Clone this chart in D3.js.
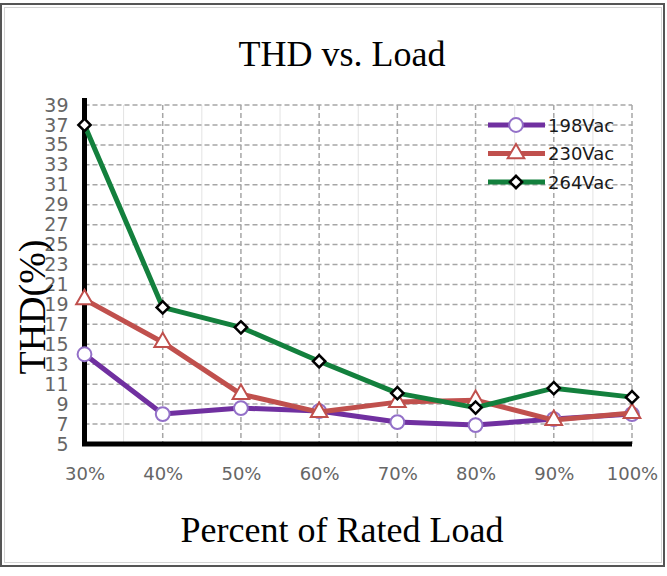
<!DOCTYPE html>
<html>
<head>
<meta charset="utf-8">
<script src="https://cdn.jsdelivr.net/npm/d3@7"></script>
<style>
  html, body { margin: 0; padding: 0; background: #fff; }
  svg { display: block; }
</style>
</head>
<body>
<div id="chart"></div>
<script>
const loads = ['30%', '40%', '50%', '60%', '70%', '80%', '90%', '100%']
const yTicks = [5, 7, 9, 11, 13, 15, 17, 19, 21, 23, 25, 27, 29, 31, 33, 35, 37, 39]
const thd198 = [14, 8.0, 8.6, 8.3, 7.2, 6.9, 7.5, 8.0]
const thd230 = [19.5, 15.2, 10.0, 8.2, 9.2, 9.4, 7.4, 8.1]
const thd264 = [37, 18.7, 16.7, 13.3, 10.1, 8.65, 10.6, 9.7]
const seriesNames = ['198Vac', '230Vac', '264Vac']

const width = 667
const height = 576
const serif = '"Liberation Serif", "Times New Roman", serif'
const sans = '"DejaVu Sans", sans-serif'

const series = [
  {name: seriesNames[0], values: thd198, color: '#7030a0', marker: 'circle', markerStroke: '#9370c8'},
  {name: seriesNames[1], values: thd230, color: '#c0504d', marker: 'triangle', markerStroke: '#c0504d'},
  {name: seriesNames[2], values: thd264, color: '#13803d', marker: 'diamond', markerStroke: '#000'}
]

const svg = d3.select('#chart').append('svg')
  .attr('width', width)
  .attr('height', height)

// frame
svg.append('rect')
  .attr('x', 1).attr('y', 4)
  .attr('width', 663).attr('height', 562)
  .attr('fill', '#fff')
  .attr('stroke', '#555').attr('stroke-width', 2)
svg.append('rect')
  .attr('x', 4.5).attr('y', 7.5)
  .attr('width', 657).attr('height', 555)
  .attr('fill', 'none')
  .attr('stroke', '#d4d4d4').attr('stroke-width', 1)

const x = d3.scalePoint()
  .domain(loads)
  .range([84.5, 632])
const y = d3.scaleLinear()
  .domain([5, 39])
  .range([444, 105])

const step = x.step()

// minor vertical grid
svg.append('g').selectAll('line').data(loads.slice(0, -1))
  .enter().append('line')
    .attr('x1', (d) => x(d) + step / 2)
    .attr('x2', (d) => x(d) + step / 2)
    .attr('y1', y(39))
    .attr('y2', y(5))
    .attr('stroke', '#e3e3e3')
    .attr('stroke-width', 1)

// major grid
svg.append('g').selectAll('line').data(yTicks.slice(1))
  .enter().append('line')
    .attr('x1', x(loads[0]))
    .attr('x2', x(loads[loads.length - 1]))
    .attr('y1', (d) => y(d))
    .attr('y2', (d) => y(d))
    .attr('stroke', '#a6a6a6')
    .attr('stroke-width', 1.5)
    .attr('stroke-dasharray', '5,3')
svg.append('g').selectAll('line').data(loads.slice(1))
  .enter().append('line')
    .attr('x1', (d) => x(d))
    .attr('x2', (d) => x(d))
    .attr('y1', y(39))
    .attr('y2', y(5))
    .attr('stroke', '#a6a6a6')
    .attr('stroke-width', 1.5)
    .attr('stroke-dasharray', '5,3')

// axes
const yAxis = svg.append('g')
  .attr('transform', `translate(${x(loads[0])}, 0)`)
  .call(d3.axisLeft(y).tickValues(yTicks).tickSize(0).tickPadding(16))
yAxis.select('.domain').remove()
yAxis.selectAll('text')
  .attr('font-family', sans)
  .attr('font-size', 19)
  .attr('fill', '#666')

const xAxis = svg.append('g')
  .attr('transform', `translate(0, ${y(5)})`)
  .call(d3.axisBottom(x).tickSize(0).tickPadding(23))
xAxis.select('.domain').remove()
xAxis.selectAll('text')
  .attr('font-family', sans)
  .attr('font-size', 18)
  .attr('fill', '#666')

svg.append('line')
  .attr('x1', x(loads[0]))
  .attr('x2', x(loads[0]))
  .attr('y1', y(39) - 7)
  .attr('y2', y(5))
  .attr('stroke', '#000')
  .attr('stroke-width', 5)
svg.append('line')
  .attr('x1', x(loads[0]) - 2.5)
  .attr('x2', x(loads[loads.length - 1]))
  .attr('y1', y(5))
  .attr('y2', y(5))
  .attr('stroke', '#000')
  .attr('stroke-width', 5)

// markers
const symbolFor = {
  circle: d3.symbol().type(d3.symbolCircle).size(150),
  triangle: d3.symbol().type(d3.symbolTriangle).size(120),
  diamond: d3.symbol().type(d3.symbolSquare).size(75)
}

function drawMarker(g, s, cx, cy) {
  g.append('path')
    .attr('d', symbolFor[s.marker]())
    .attr('transform', `translate(${cx}, ${cy})${s.marker === 'diamond' ? ' rotate(45)' : ''}`)
    .attr('fill', '#fff')
    .attr('stroke', s.markerStroke)
    .attr('stroke-width', s.marker === 'diamond' ? 2.5 : 2)
}

const line = d3.line()
  .x((d, i) => x(loads[i]))
  .y((d) => y(d))

series.forEach((s) => {
  const g = svg.append('g')
  g.append('path')
    .datum(s.values)
    .attr('d', line)
    .attr('fill', 'none')
    .attr('stroke', s.color)
    .attr('stroke-width', 5)
    .attr('stroke-linejoin', 'round')
  s.values.forEach((v, i) => drawMarker(g, s, x(loads[i]), y(v)))
})

// legend
const legend = svg.append('g')
series.forEach((s, i) => {
  const ly = 125 + i * 28.5
  const g = legend.append('g')
  g.append('line')
    .attr('x1', 488).attr('x2', 545)
    .attr('y1', ly).attr('y2', ly)
    .attr('stroke', s.color)
    .attr('stroke-width', 5)
  drawMarker(g, s, 516, ly)
  g.append('text')
    .attr('x', 548)
    .attr('y', ly + 6.5)
    .attr('font-family', sans)
    .attr('font-size', 18)
    .attr('fill', '#1a1a1a')
    .text(s.name)
})

// titles
svg.append('text')
  .attr('x', 342)
  .attr('y', 66)
  .attr('text-anchor', 'middle')
  .attr('font-family', serif)
  .attr('font-size', 36)
  .attr('fill', '#000')
  .text('THD vs. Load')

svg.append('text')
  .attr('x', 342)
  .attr('y', 542)
  .attr('text-anchor', 'middle')
  .attr('font-family', serif)
  .attr('font-size', 36)
  .attr('fill', '#000')
  .text('Percent of Rated Load')

svg.append('text')
  .attr('transform', 'translate(45, 307) rotate(-90)')
  .attr('text-anchor', 'middle')
  .attr('font-family', serif)
  .attr('font-size', 38)
  .attr('fill', '#000')
  .text('THD(%)')
</script>
</body>
</html>
